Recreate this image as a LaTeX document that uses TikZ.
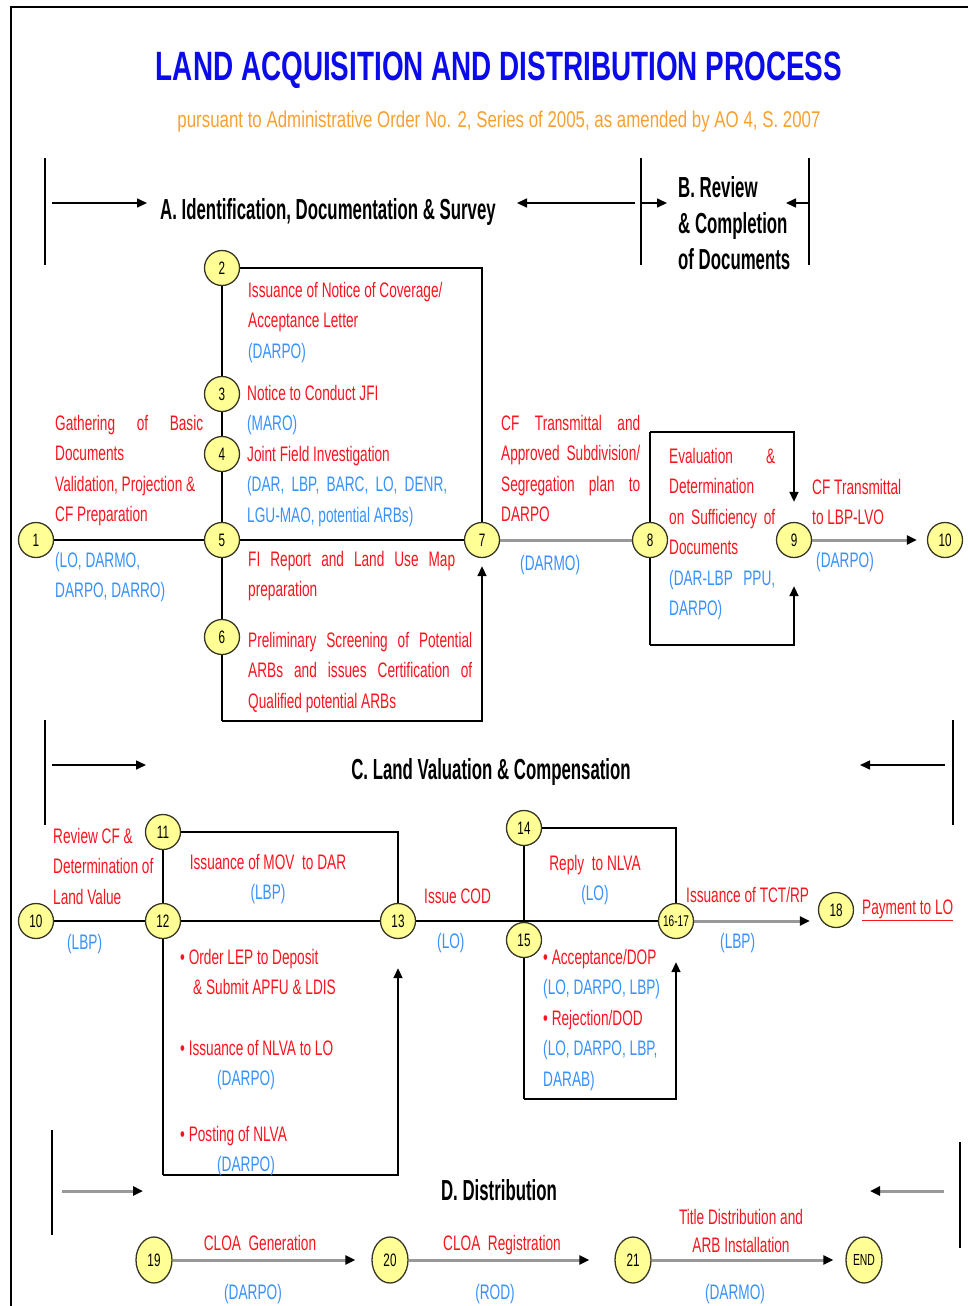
\documentclass[tikz,border=0pt]{standalone}
\usepackage{fontspec}
\setmainfont{Liberation Sans}[FakeStretch=0.65]
\newfontfamily\titlefam{Liberation Sans}[FakeStretch=0.68]
\newfontfamily\hdrfam{Liberation Sans}[FakeStretch=0.58]
\newfontfamily\subfam{Liberation Sans}[FakeStretch=0.74]
\usetikzlibrary{arrows.meta,shapes.geometric,backgrounds}

\definecolor{txtred}{RGB}{250,20,30}
\definecolor{txtblue}{RGB}{55,145,255}
\definecolor{ttlblue}{RGB}{10,10,235}
\definecolor{suborange}{RGB}{248,160,50}
\definecolor{stepfill}{RGB}{255,255,150}
\definecolor{stepline}{RGB}{55,55,40}

\newcommand\jl[2]{\makebox[#1pt][s]{#2}}
\newcommand\ag[1]{{\color{txtblue}#1}}

\tikzset{
  stepnode/.style={circle, draw=stepline, line width=1.3pt, fill=stepfill,
    minimum size=35pt, inner sep=0pt, font=\fontsize{18}{18}\selectfont},
  distnode/.style={ellipse, draw=stepline, line width=1.3pt, fill=stepfill,
    minimum width=36pt, minimum height=46pt, inner sep=0pt, font=\fontsize{18}{18}\selectfont},
  redtxt/.style={anchor=north west, inner sep=0pt, align=left, text=txtred,
    font=\fontsize{21}{30.5}\selectfont},
  bluetxt/.style={redtxt, text=txtblue},
  hdr/.style={anchor=base west, inner sep=0pt, font=\hdrfam\bfseries\fontsize{29}{36}\selectfont},
  flow/.style={line width=1.6pt, black},
  arr/.style={flow, -{Triangle[length=10pt,width=9pt]}},
  grayline/.style={line width=3pt, black!40},
  grayarr/.style={grayline, -{Triangle[length=10pt,width=9pt,color=black]}},
  bar/.style={line width=1.4pt},
}

\begin{document}
\begin{tikzpicture}[x=1pt,y=-1pt]
\useasboundingbox (0,0) rectangle (968,1306);
\draw[line width=1.2pt] (968,7) -- (11,7) -- (11,1306);

\node[anchor=base, text=ttlblue, font=\titlefam\bfseries\fontsize{41}{41}\selectfont] (title) at (499,81)
  {LAND ACQUISITION AND DISTRIBUTION PROCESS};
\node[anchor=base, text=suborange, font=\subfam\fontsize{22.8}{22.8}\selectfont] (subtitle) at (499,127)
  {pursuant to Administrative Order No. 2, Series of 2005, as amended by AO 4, S. 2007};

\node[hdr] (hdrA) at (160,219) {A. Identification, Documentation \& Survey};
\node[hdr, anchor=north west, align=left] (hdrB) at (678,176) {B. Review\\\& Completion\\of Documents};
\node[hdr, anchor=base] (hdrC) at (491,779) {C. Land Valuation \& Compensation};
\node[hdr, anchor=base] (hdrD) at (499,1200) {D. Distribution};

\coordinate (aBarT) at (45,158);  \coordinate (aBarB) at (45,265);
\coordinate (bBarT) at (641,158); \coordinate (bBarB) at (641,265);
\coordinate (eBarT) at (809,158); \coordinate (eBarB) at (809,265);
\coordinate (aIn) at (52,203);    \coordinate (aInTip) at (147,203);
\coordinate (aOut) at (635,203);  \coordinate (aOutTip) at (517,203);
\coordinate (bIn) at (641,203);   \coordinate (bInTip) at (667,203);
\coordinate (bOut) at (808,203);  \coordinate (bOutTip) at (786,203);
\coordinate (cBarT) at (45,720);  \coordinate (cBarB) at (45,825);
\coordinate (fBarT) at (953,720); \coordinate (fBarB) at (953,825);
\coordinate (cIn) at (52,765);    \coordinate (cInTip) at (146,765);
\coordinate (cOut) at (945,765);  \coordinate (cOutTip) at (860,765);
\coordinate (dBarT) at (52,1130); \coordinate (dBarB) at (52,1235);
\coordinate (gBarT) at (960,1142);\coordinate (gBarB) at (960,1248);
\coordinate (dIn) at (62,1191);   \coordinate (dInTip) at (143,1191);
\coordinate (dOut) at (944,1191); \coordinate (dOutTip) at (870,1191);

\node[stepnode] (n1) at (36,540) {1};
\node[stepnode] (n2) at (222,268) {2};
\node[stepnode] (n3) at (222,394) {3};
\node[stepnode] (n4) at (222,454) {4};
\node[stepnode] (n5) at (222,540) {5};
\node[stepnode] (n6) at (222,637) {6};
\node[stepnode] (n7) at (482,540) {7};
\node[stepnode] (n8) at (650,540) {8};
\node[stepnode] (n9) at (794,540) {9};
\node[stepnode] (n10) at (945,540) {10};

\node[stepnode] (n10b) at (36,921) {10};
\node[stepnode] (n11) at (163,832) {11};
\node[stepnode] (n12) at (163,921) {12};
\node[stepnode] (n13) at (398,921) {13};
\node[stepnode] (n14) at (524,828) {14};
\node[stepnode] (n15) at (524,940) {15};
\node[stepnode, font=\fontsize{15.5}{15.5}\selectfont] (n1617) at (676,921) {16-17};
\node[stepnode] (n18) at (836,910) {18};

\node[distnode] (n19) at (154,1260) {19};
\node[distnode] (n20) at (390,1260) {20};
\node[distnode] (n21) at (633,1260) {21};
\node[distnode, font=\fontsize{16}{16}\selectfont] (nend) at (864,1260) {END};

\node[redtxt] (t1) at (55,415) {\jl{148}{Gathering of Basic}\\Documents\\Validation, Projection \&\\CF Preparation};
\node[bluetxt] (t1a) at (55,552) {(LO, DARMO,\\DARPO, DARRO)};
\node[redtxt] (t2) at (248,282) {Issuance of Notice of Coverage/\\Acceptance Letter\\\ag{(DARPO)}};
\node[redtxt] (t3) at (247,385) {Notice to Conduct JFI\\\ag{(MARO)}};
\node[redtxt] (t4) at (247,446) {Joint Field Investigation\\\ag{\jl{200}{(DAR, LBP, BARC, LO, DENR,}}\\\ag{LGU-MAO, potential ARBs)}};
\node[redtxt] (t5) at (248,551) {\jl{207}{FI Report and Land Use Map}\\preparation};
\node[redtxt] (t6) at (248,632) {\jl{224}{Preliminary Screening of Potential}\\\jl{224}{ARBs and issues Certification of}\\Qualified potential ARBs};
\node[redtxt] (t7) at (501,415) {\jl{139}{CF Transmittal and}\\\jl{139}{Approved Subdivision/}\\\jl{139}{Segregation plan to}\\DARPO};
\node[bluetxt] (t7a) at (520,555) {(DARMO)};
\node[redtxt] (t8) at (669,448) {\jl{106}{Evaluation \&}\\Determination\\\jl{106}{on Sufficiency of}\\Documents\\\ag{\jl{106}{(DAR-LBP PPU,}}\\\ag{DARPO)}};
\node[redtxt] (t9) at (812,479) {CF Transmittal\\to LBP-LVO};
\node[bluetxt] (t9a) at (816,552) {(DARPO)};

\node[redtxt] (t10) at (53,828) {Review CF \&\\Determination of\\Land Value};
\node[bluetxt] (t10a) at (67,934) {(LBP)};
\node[redtxt, anchor=north, align=center] (t11) at (268,854) {Issuance of MOV\ \ to DAR\\\ag{(LBP)}};
\node[redtxt] (t12a) at (180,949) {\textbullet\ Order LEP to Deposit\\\hspace*{13pt}\& Submit APFU \& LDIS};
\node[redtxt] (t12b) at (180,1040) {\textbullet\ Issuance of NLVA to LO\\\hspace*{37pt}\ag{(DARPO)}};
\node[redtxt] (t12c) at (180,1126) {\textbullet\ Posting of NLVA\\\hspace*{37pt}\ag{(DARPO)}};
\node[redtxt] (t13) at (424,889) {Issue COD};
\node[bluetxt] (t13a) at (437,933) {(LO)};
\node[redtxt, anchor=north, align=center] (t14) at (595,855) {Reply\ \ to NLVA\\\ag{(LO)}};
\node[redtxt] (t15) at (543,949) {\textbullet\ Acceptance/DOP\\\ag{(LO, DARPO, LBP)}\\\textbullet\ Rejection/DOD\\\ag{(LO, DARPO, LBP,}\\\ag{DARAB)}};
\node[redtxt] (t16) at (686,887) {Issuance of TCT/RP};
\node[bluetxt] (t16a) at (720,933) {(LBP)};
\node[redtxt, anchor=west] (t18) at (862,910) {\underline{Payment to LO}};

\node[redtxt, anchor=north, align=center] (t19) at (260,1235) {CLOA\ \ Generation};
\node[bluetxt, anchor=north, align=center] (t19a) at (253,1284) {(DARPO)};
\node[redtxt, anchor=north, align=center] (t20) at (502,1235) {CLOA\ \ Registration};
\node[bluetxt, anchor=north, align=center] (t20a) at (495,1284) {(ROD)};
\node[redtxt, anchor=north, align=center, font=\fontsize{21}{28}\selectfont] (t21) at (741,1209) {Title Distribution and\\ARB Installation};
\node[bluetxt, anchor=north, align=center] (t21a) at (735,1284) {(DARMO)};

\begin{scope}[on background layer]
\draw[bar] (aBarT) -- (aBarB);
\draw[bar] (bBarT) -- (bBarB);
\draw[bar] (eBarT) -- (eBarB);
\draw[arr] (aIn) -- (aInTip);
\draw[arr] (aOut) -- (aOutTip);
\draw[arr] (bIn) -- (bInTip);
\draw[arr] (bOut) -- (bOutTip);
\draw[bar] (cBarT) -- (cBarB);
\draw[bar] (fBarT) -- (fBarB);
\draw[arr] (cIn) -- (cInTip);
\draw[arr] (cOut) -- (cOutTip);
\draw[bar] (dBarT) -- (dBarB);
\draw[bar] (gBarT) -- (gBarB);
\draw[grayarr] (dIn) -- (dInTip);
\draw[grayarr] (dOut) -- (dOutTip);

\coordinate (aBoxBL) at (222,721);
\draw[flow] (n2) -| (n7);
\draw[flow] (n2) -- (n3) -- (n4) -- (n5) -- (n6) -- (aBoxBL);
\draw[arr, shorten >=8pt] (aBoxBL) -| (n7);
\draw[flow] (n1) -- (n5) -- (n7);
\draw[grayline] (n7) -- (n8);

\coordinate (bBoxTL) at (650,432);
\coordinate (bBoxBL) at (650,645);
\draw[flow] (bBoxTL) -- (bBoxBL);
\draw[arr, shorten >=20pt] (bBoxTL) -| (n9);
\draw[arr, shorten >=28pt] (bBoxBL) -| (n9);
\draw[grayarr, shorten >=10pt] (n9) -- (n10);

\coordinate (cBoxBL) at (163,1175);
\draw[flow] (n11) -| (n13);
\draw[flow] (n11) -- (n12) -- (cBoxBL);
\draw[arr, shorten >=29pt] (cBoxBL) -| (n13);
\draw[flow] (n10b) -- (n12) -- (n13) -- (n1617);

\coordinate (dBoxBL) at (524,1099);
\draw[flow] (n14) -| (n1617);
\draw[flow] (n14) -- (n15) -- (dBoxBL);
\draw[arr, shorten >=23pt] (dBoxBL) -| (n1617);
\draw[grayarr, shorten >=8pt] (n1617) -- (n1617 -| n18.west);

\draw[grayarr, shorten >=16pt] (n19) -- (n20);
\draw[grayarr, shorten >=25pt] (n20) -- (n21);
\draw[grayarr, shorten >=12pt] (n21) -- (nend);
\end{scope}
\end{tikzpicture}
\end{document}
